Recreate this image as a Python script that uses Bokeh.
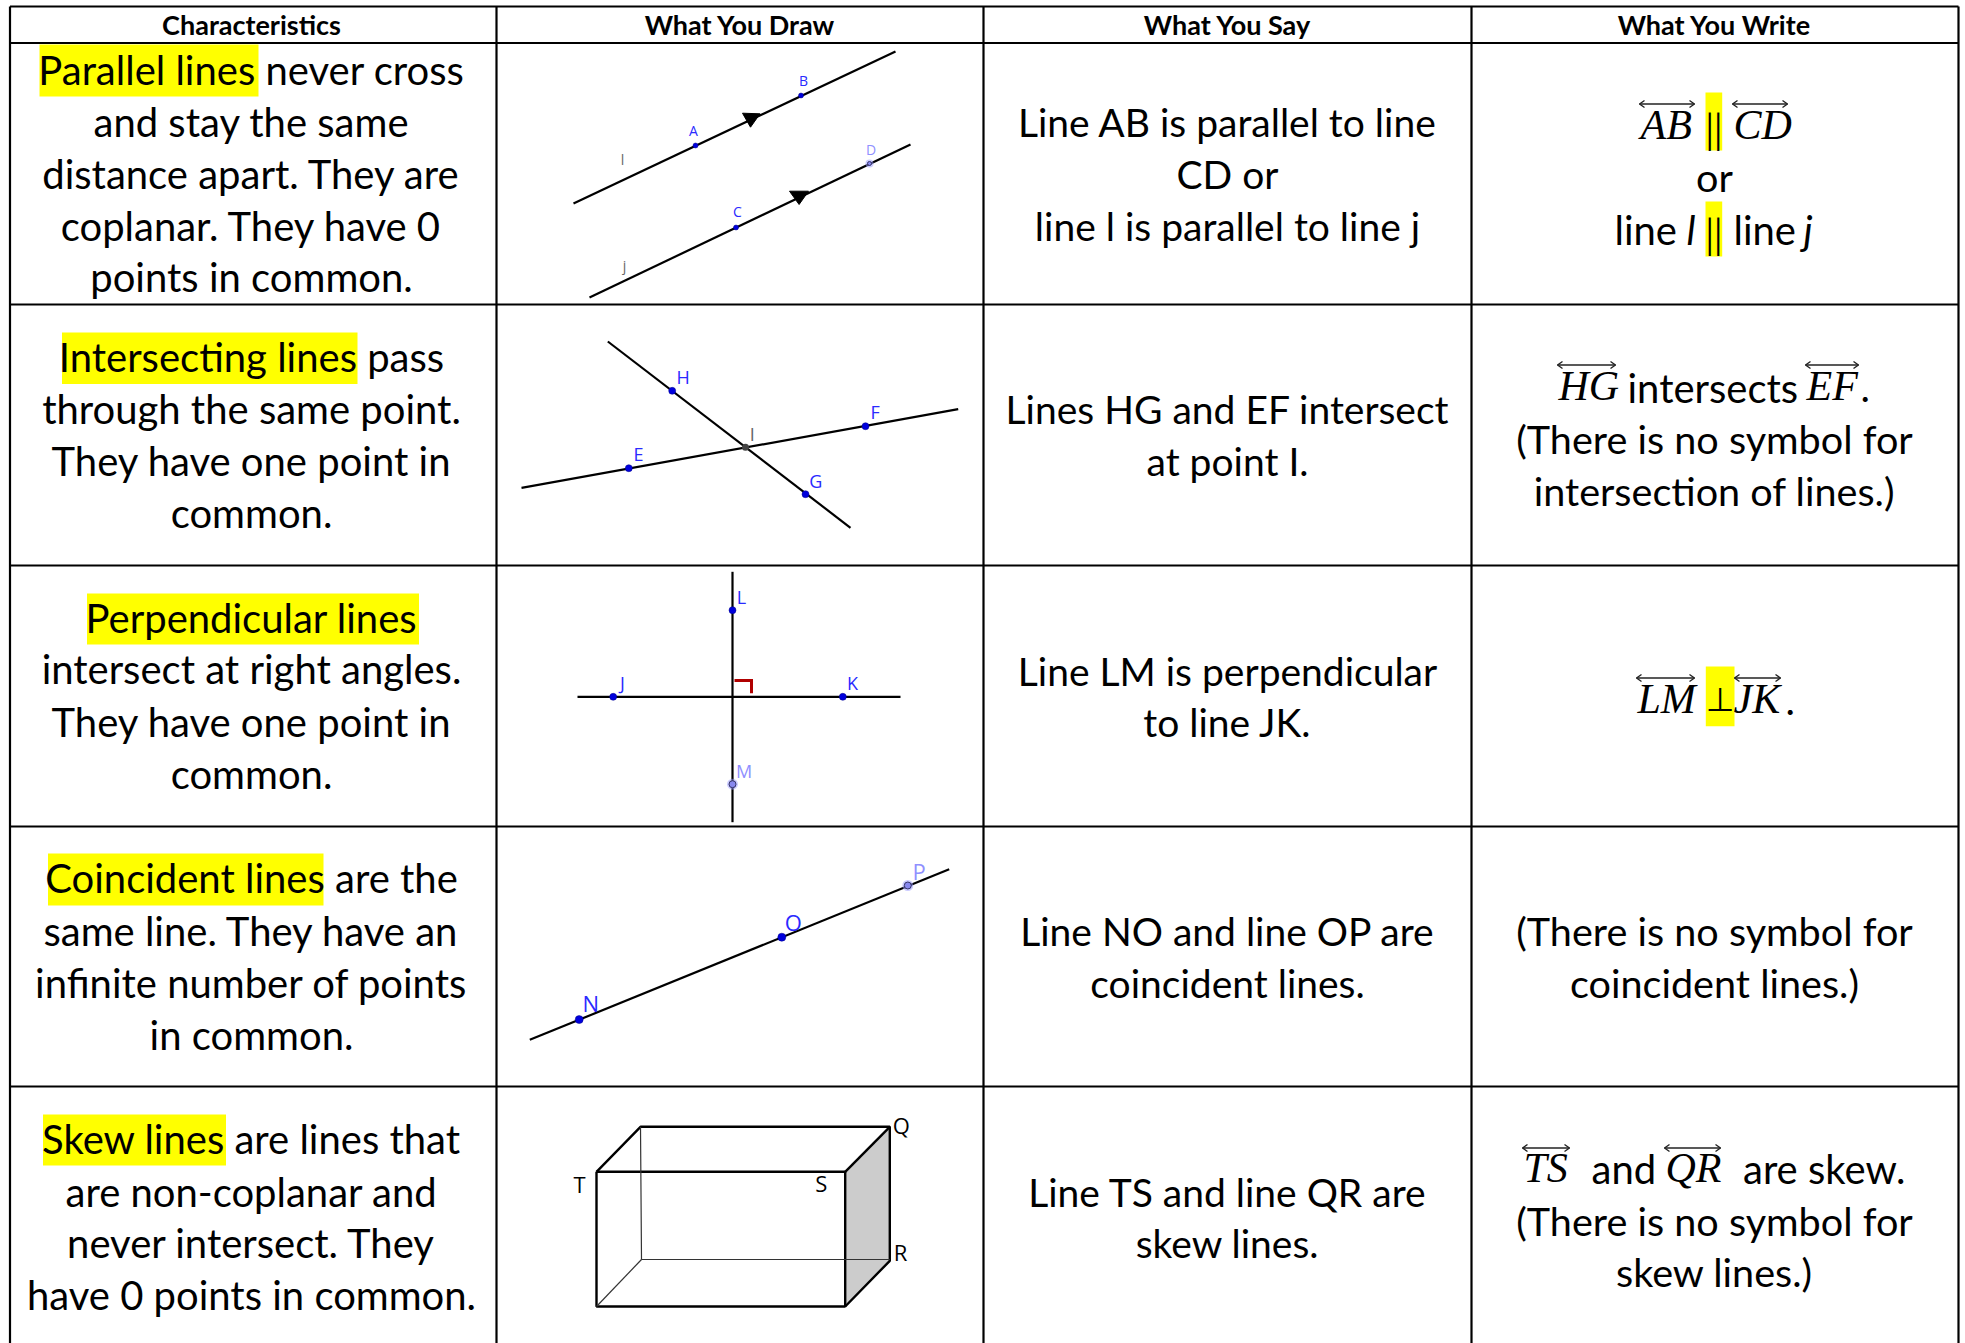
from bokeh.plotting import figure
from bokeh.models import ColumnDataSource, Range1d
from bokeh.core.properties import value
from bokeh.embed import file_html
from bokeh.resources import INLINE

# ---- table structure
COL_EDGES = [9.5, 496, 983, 1471, 1958]
ROW_EDGES = [6, 42.5, 304, 565, 826, 1086, 1343]
HEADERS = ["Characteristics", "What You Draw", "What You Say", "What You Write"]
HEADER_X = [251, 739.5, 1227, 1714]
HEADER_Y = 24

# ---- column 1
CHAR_LINES = ["Parallel lines never cross", "and stay the same", "distance apart. They are",
              "coplanar. They have 0", "points in common.",
              "Intersecting lines pass", "through the same point.", "They have one point in", "common.",
              "Perpendicular lines", "intersect at right angles.", "They have one point in", "common.",
              "Coincident lines are the", "same line. They have an", "infinite number of points", "in common.",
              "Skew lines are lines that", "are non-coplanar and", "never intersect. They", "have 0 points in common."]
CHAR_Y = [69, 121, 173, 225, 276,
          356, 408, 460, 512.5,
          617, 668.5, 721, 773,
          877.5, 930, 982, 1034,
          1138, 1191, 1242, 1294]
HL_LEFT = [39, 61.5, 86.5, 47.5, 42.5, 1705, 1705, 1705.3]
HL_RIGHT = [258, 357, 418.5, 323, 225.5, 1721.7, 1721.7, 1734]
HL_TOP = [44, 332, 593, 853, 1114, 92, 201, 666]
HL_BOTTOM = [96, 383.5, 644, 905, 1165, 150, 256, 725.7]

# ---- column 3
SAY_LINES = ["Line AB is parallel to line", "CD or", "line l is parallel to line j",
             "Lines HG and EF intersect", "at point I.",
             "Line LM is perpendicular", "to line JK.",
             "Line NO and line OP are", "coincident lines.",
             "Line TS and line QR are", "skew lines."]
SAY_Y = [121, 173, 225, 408, 460, 670, 721, 930, 982, 1191, 1242]

# ---- column 4
WRITE_LINES = ["or", "(There is no symbol for", "intersection of lines.)",
               "(There is no symbol for", "coincident lines.)",
               "(There is no symbol for", "skew lines.)"]
WRITE_Y = [175.5, 437.5, 490, 930, 981.5, 1219.5, 1271]
WRITE_PLAIN = ["line", "line", "intersects", ".", ".", "and", "are skew."]
WRITE_PLAIN_X = [1614, 1733, 1627, 1860, 1785, 1591, 1742.5]
WRITE_PLAIN_Y = [229, 229, 387, 387, 700, 1168, 1168]
WRITE_ITAL = ["l", "j"]
WRITE_ITAL_X = [1686, 1803]
WRITE_ITAL_Y = [229, 229]
MATH = ["AB", "CD", "HG", "EF", "LM", "JK", "TS", "QR"]
MATH_X = [1640, 1733, 1558, 1806, 1637, 1733, 1523, 1665]
MATH_Y = [124.5, 124.5, 385.5, 385.5, 698.5, 698.5, 1167.5, 1167.5]
ARROW_X0 = [1639, 1732, 1557, 1805, 1636, 1734, 1522, 1664]
ARROW_X1 = [1694, 1787, 1615, 1858, 1694, 1780, 1569, 1720]
ARROW_Y = [103.5, 103.5, 364.5, 364.5, 677.5, 677.5, 1147.5, 1147.5]
SYMBOLS = ["||", "||", "⊥"]
SYMBOL_X = [1713.5, 1713.5, 1719.5]
SYMBOL_Y = [127, 232, 698.5]

# ---- diagrams
LINE_X0 = [573, 589, 607.3, 521, 732, 577, 529.3]
LINE_Y0 = [203, 297, 341, 487.3, 571.3, 696.3, 1039.3]
LINE_X1 = [895, 910, 850, 957.7, 732, 900, 948.7]
LINE_Y1 = [51, 144, 527.3, 408.7, 821.7, 696.3, 868.7]
ARROWHEAD_XS = [[742, 759.5, 750], [789, 808, 798.6]]
ARROWHEAD_YS = [[112.7, 113.3, 126.7], [190.7, 190.7, 204]]
POINT_X = [695, 800.5, 735.5, 671.7, 805, 628.3, 865, 732, 612.7, 842.3, 578.7, 781.3]
POINT_Y = [145, 95, 227, 390.3, 493.7, 467.7, 425.7, 609.7, 696.3, 696.3, 1019, 936.7]
POINT_SIZE = [5, 5, 5, 7, 7, 7, 7, 7, 7, 7, 8, 8]
FREE_X = [869, 732, 907.3]
FREE_Y = [163, 783.7, 885]
FREE_SIZE = [4, 7, 7]
GREY_X = [745]
GREY_Y = [446.7]
LABELS = ["A", "B", "C", "H", "G", "E", "F", "L", "J", "K", "N", "O"]
LABEL_X = [693, 803, 737, 682.7, 815.3, 638, 874.7, 741, 622, 852, 590.3, 792.7]
LABEL_Y = [130, 80, 211, 376.5, 480.2, 453.8, 411.8, 596.2, 682.5, 682.5, 1002.5, 921]
LABEL_SIZE = ["14px", "14px", "14px", "18px", "18px", "18px", "18px", "18px", "18px", "18px", "22px", "22px"]
LIGHT_LABELS = ["D", "M", "P"]
LIGHT_X = [870.5, 743.7, 918.7]
LIGHT_Y = [149, 770.2, 870]
LIGHT_SIZE = ["14px", "18px", "22px"]
GREY_LABELS = ["l", "j", "I"]
GREY_LX = [622, 624, 751.7]
GREY_LY = [159, 265, 433.5]
GREY_LSIZE = ["14px", "14px", "18px"]
RIGHT_ANGLE_X = [734, 751, 751]
RIGHT_ANGLE_Y = [680, 680, 692.7]
BOX_FACE_X = [844.7, 889.3, 889.3, 844.7]
BOX_FACE_Y = [1171.3, 1126.3, 1260.3, 1306]
BOX_THICK_XS = [[596, 844.7, 844.7, 596, 596], [596, 640, 889.3, 889.3, 844.7], [844.7, 889.3]]
BOX_THICK_YS = [[1171.3, 1171.3, 1306, 1306, 1171.3], [1171.3, 1126.3, 1126.3, 1260.3, 1306], [1171.3, 1126.3]]
BOX_THIN_XS = [[640, 641, 889.3], [641, 596]]
BOX_THIN_YS = [[1126.3, 1259, 1259], [1259, 1306]]
BOX_LABELS = ["Q", "R", "T", "S"]
BOX_LX = [900.7, 900, 579, 820.7]
BOX_LY = [1124, 1251.3, 1183.7, 1182.7]

BODY_FONT = value("Lato")
BODY_SIZE = "40px"

p = figure(width=1965, height=1343, x_range=Range1d(0, 1965), y_range=Range1d(1343, 0),
           x_axis_type=None, y_axis_type=None, toolbar_location=None, output_backend="svg",
           min_border=0, outline_line_color=None, background_fill_color="white")
p.grid.visible = False

# highlights
p.quad(left=HL_LEFT, right=HL_RIGHT, top=HL_TOP, bottom=HL_BOTTOM, fill_color="#ffff00", line_color=None)

# table rules
top, bottom = ROW_EDGES[0], ROW_EDGES[-1]
p.segment(x0=COL_EDGES, x1=COL_EDGES, y0=[top] * len(COL_EDGES), y1=[bottom] * len(COL_EDGES),
          line_color="black", line_width=2.2)
rows = ROW_EDGES[:-1]
p.segment(x0=[COL_EDGES[0]] * len(rows), x1=[COL_EDGES[-1]] * len(rows), y0=rows, y1=rows,
          line_color="black", line_width=2.2)

# headers
p.text(x=HEADER_X, y=[HEADER_Y] * 4, text=HEADERS, text_font=value("Lato"), text_font_style="bold",
       text_font_size="27px", text_align="center", text_baseline="middle", text_color="black")

def body(xs, ys, texts, align="center", style="normal", font=BODY_FONT, size=BODY_SIZE):
    p.text(x=xs, y=ys, text=texts, text_font=font, text_font_style=style, text_font_size=size,
           text_align=align, text_baseline="middle", text_color="black")

body([251] * len(CHAR_LINES), CHAR_Y, CHAR_LINES)
body([1227] * len(SAY_LINES), SAY_Y, SAY_LINES, size="39px")
body([1714] * len(WRITE_LINES), WRITE_Y, WRITE_LINES, size="39.6px")
body(WRITE_PLAIN_X, WRITE_PLAIN_Y, WRITE_PLAIN, align="left")
body(WRITE_ITAL_X, WRITE_ITAL_Y, WRITE_ITAL, align="left", style="italic")
body(MATH_X, MATH_Y, MATH, align="left", style="italic", font=value("Liberation Serif"), size="42px")
body(SYMBOL_X[:2], SYMBOL_Y[:2], SYMBOLS[:2], font=value("Liberation Serif"), size="42px")
body(SYMBOL_X[2:], SYMBOL_Y[2:], SYMBOLS[2:], font=value("DejaVu Sans"), size="33px")

# over-arrows on line names
p.segment(x0=ARROW_X0, x1=ARROW_X1, y0=ARROW_Y, y1=ARROW_Y, line_color="#222222", line_width=1.4)
heads_x, heads_y = [], []
for x0, x1, y in zip(ARROW_X0, ARROW_X1, ARROW_Y):
    heads_x += [[x0 + 5, x0, x0 + 5], [x1 - 5, x1, x1 - 5]]
    heads_y += [[y - 3.5, y, y + 3.5], [y - 3.5, y, y + 3.5]]
p.multi_line(xs=heads_x, ys=heads_y, line_color="#222222", line_width=1.4)

# diagrams
p.patch(BOX_FACE_X, BOX_FACE_Y, fill_color="#cccccc", line_color=None)
p.segment(x0=LINE_X0, y0=LINE_Y0, x1=LINE_X1, y1=LINE_Y1, line_color="black", line_width=2.2)
p.patches(xs=ARROWHEAD_XS, ys=ARROWHEAD_YS, fill_color="black", line_color="black", line_width=1)
p.line(RIGHT_ANGLE_X, RIGHT_ANGLE_Y, line_color="#b00000", line_width=3, line_join="miter")
p.multi_line(xs=BOX_THICK_XS, ys=BOX_THICK_YS, line_color="black", line_width=2.4)
p.multi_line(xs=BOX_THIN_XS, ys=BOX_THIN_YS, line_color="#333333", line_width=1.2)

p.scatter(x=FREE_X, y=FREE_Y, size=[s + 4 for s in FREE_SIZE], marker="circle", fill_color="#9999ff",
          fill_alpha=0.5, line_color=None)
p.scatter(x=FREE_X, y=FREE_Y, size=FREE_SIZE, marker="circle", fill_color="#8888ee",
          line_color="#333366", line_width=1)
p.scatter(x=POINT_X, y=POINT_Y, size=POINT_SIZE, marker="circle", fill_color="#0000dd",
          line_color="#000088", line_width=0.5)
p.scatter(x=GREY_X, y=GREY_Y, size=7, marker="circle", fill_color="#444444", line_color=None)

def labels(xs, ys, texts, sizes, color):
    src = ColumnDataSource(dict(x=xs, y=ys, text=texts, size=sizes))
    p.text(x="x", y="y", text="text", source=src, text_font=value("Open Sans"), text_font_size="size",
           text_color=color, text_align="center", text_baseline="middle")

labels(LABEL_X, LABEL_Y, LABELS, LABEL_SIZE, "#2a2aff")
labels(LIGHT_X, LIGHT_Y, LIGHT_LABELS, LIGHT_SIZE, "#9090ff")
labels(GREY_LX, GREY_LY, GREY_LABELS, GREY_LSIZE, "#666666")
labels(BOX_LX, BOX_LY, BOX_LABELS, ["22px"] * 4, "black")

open("out.html", "w").write(file_html(p, INLINE))
